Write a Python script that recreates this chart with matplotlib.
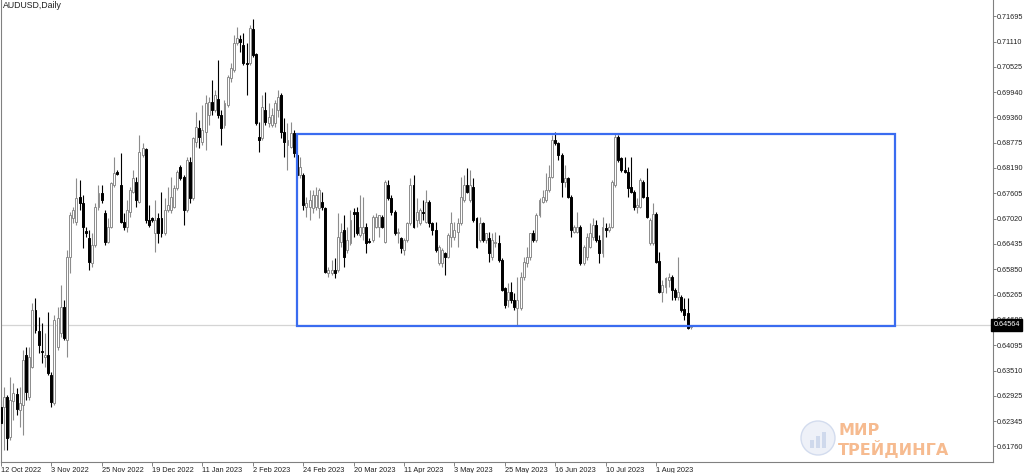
import numpy as np
import matplotlib
matplotlib.use('Agg')
import matplotlib.pyplot as plt
from matplotlib.patches import Rectangle, Ellipse

# AUDUSD daily, 12 Oct 2022 .. mid Aug 2023
opens = [
    .6267, .6267, .6290, .6198, .6281, .6297, .6260, .6271, .6387, .6290,
    .6359, .6491, .6442, .6396, .6382, .6387, .6341, .6276, .6405, .6438,
    .6498, .6422, .6613, .6703, .6694, .6752, .6738, .6673, .6657, .6600,
    .6641, .6729, .6761, .6715, .6648, .6683, .6780, .6810, .6780, .6694,
    .6683, .6717, .6764, .6787, .6740, .6849, .6863, .6699, .6703, .6669,
    .6703, .6703, .6669, .6722, .6722, .6729, .6773, .6821, .6798, .6722,
    .6833, .6750, .6879, .6911, .6879, .6902, .6941, .6971, .6953, .6978,
    .6941, .6918, .6964, .7027, .7045, .7108, .7117, .7103, .7061, .7061,
    .7140, .7082, .6891, .6888, .6953, .6923, .6918, .6923, .6953, .6988,
    .6902, .6872, .6867, .6900, .6849, .6803, .6803, .6729, .6729, .6727,
    .6729, .6727, .6740, .6727, .6576, .6576, .6583, .6583, .6648, .6676,
    .6630, .6646, .6717, .6717, .6664, .6669, .6683, .6650, .6653, .6683,
    .6683, .6706, .6648, .6780, .6750, .6717, .6669, .6657, .6630, .6653,
    .6692, .6780, .6699, .6692, .6717, .6694, .6740, .6692, .6676, .6600,
    .6600, .6623, .6613, .6660, .6660, .6671, .6692, .6745, .6780, .6745,
    .6775, .6703, .6652, .6692, .6652, .6657, .6613, .6646, .6646, .6606,
    .6542, .6514, .6532, .6514, .6496, .6496, .6567, .6600, .6613, .6669,
    .6652, .6710, .6740, .6745, .6768, .6798, .6884, .6877, .6849, .6787,
    .6796, .6752, .6671, .6671, .6683, .6600, .6613, .6636, .6660, .6687,
    .6652, .6623, .6680, .6676, .6683, .6780, .6891, .6842, .6814, .6810,
    .6775, .6764, .6729, .6729, .6787, .6752, .6646, .6646, .6713, .6605,
    .6532, .6544, .6560, .6567, .6537, .6521, .6521, .6493, .6484, .6452,
]
highs = [
    .6283, .6313, .6295, .6336, .6322, .6311, .6313, .6399, .6405, .6405,
    .6507, .6519, .6475, .6461, .6438, .6486, .6348, .6479, .6498, .6549,
    .6514, .6630, .6717, .6729, .6796, .6791, .6757, .6683, .6676, .6669,
    .6738, .6780, .6780, .6722, .6703, .6787, .6844, .6814, .6854, .6715,
    .6745, .6775, .6814, .6798, .6895, .6877, .6865, .6734, .6706, .6745,
    .6715, .6764, .6750, .6775, .6798, .6780, .6814, .6826, .6803, .6844,
    .6844, .6891, .6948, .6930, .6964, .6988, .6983, .7022, .6999, .7068,
    .6953, .6976, .7034, .7061, .7126, .7145, .7126, .7131, .7108, .7149,
    .7163, .7085, .6925, .6988, .6995, .6969, .6958, .6976, .6999, .6992,
    .6934, .6923, .6925, .6907, .6854, .6844, .6807, .6752, .6768, .6768,
    .6775, .6773, .6764, .6729, .6590, .6606, .6611, .6715, .6692, .6710,
    .6683, .6722, .6727, .6729, .6757, .6752, .6692, .6657, .6710, .6715,
    .6710, .6710, .6791, .6791, .6757, .6722, .6680, .6660, .6657, .6694,
    .6796, .6803, .6750, .6727, .6745, .6768, .6745, .6694, .6694, .6641,
    .6634, .6625, .6669, .6717, .6694, .6703, .6798, .6803, .6819, .6814,
    .6796, .6706, .6706, .6694, .6669, .6671, .6669, .6671, .6664, .6611,
    .6544, .6553, .6556, .6530, .6567, .6579, .6613, .6636, .6669, .6676,
    .6715, .6750, .6768, .6807, .6826, .6895, .6902, .6879, .6854, .6826,
    .6798, .6757, .6687, .6717, .6687, .6641, .6669, .6692, .6703, .6699,
    .6664, .6706, .6692, .6692, .6791, .6900, .6895, .6844, .6844, .6821,
    .6844, .6768, .6750, .6796, .6791, .6819, .6703, .6738, .6717, .6625,
    .6560, .6567, .6576, .6572, .6542, .6613, .6525, .6519, .6519, .6456,
]
lows = [
    .6225, .6168, .6168, .6191, .6237, .6248, .6221, .6202, .6283, .6283,
    .6357, .6438, .6392, .6369, .6359, .6341, .6267, .6271, .6399, .6429,
    .6422, .6382, .6576, .6692, .6687, .6722, .6634, .6660, .6583, .6590,
    .6636, .6722, .6738, .6641, .6646, .6680, .6775, .6803, .6692, .6676,
    .6671, .6706, .6761, .6729, .6738, .6844, .6692, .6683, .6694, .6625,
    .6646, .6660, .6664, .6717, .6715, .6727, .6768, .6791, .6687, .6717,
    .6738, .6745, .6867, .6865, .6872, .6860, .6918, .6941, .6948, .6934,
    .6872, .6911, .6960, .7018, .7041, .7103, .7087, .7057, .6988, .7057,
    .7075, .6918, .6856, .6884, .6918, .6914, .6914, .6914, .6937, .6888,
    .6844, .6814, .6865, .6844, .6796, .6796, .6722, .6706, .6699, .6715,
    .6722, .6703, .6722, .6576, .6567, .6572, .6565, .6579, .6636, .6590,
    .6623, .6641, .6660, .6664, .6660, .6653, .6623, .6646, .6648, .6680,
    .6660, .6680, .6646, .6745, .6710, .6664, .6646, .6623, .6618, .6648,
    .6687, .6680, .6683, .6687, .6699, .6692, .6683, .6664, .6625, .6595,
    .6590, .6572, .6611, .6636, .6653, .6636, .6687, .6740, .6761, .6740,
    .6694, .6634, .6648, .6648, .6646, .6602, .6606, .6636, .6602, .6535,
    .6496, .6498, .6507, .6491, .6454, .6491, .6560, .6590, .6606, .6648,
    .6648, .6706, .6738, .6740, .6764, .6796, .6872, .6837, .6752, .6775,
    .6750, .6660, .6669, .6669, .6595, .6595, .6606, .6634, .6652, .6648,
    .6600, .6613, .6660, .6671, .6680, .6775, .6833, .6810, .6807, .6752,
    .6761, .6722, .6715, .6727, .6750, .6703, .6641, .6641, .6600, .6530,
    .6509, .6530, .6544, .6514, .6514, .6514, .6486, .6468, .6447, .6447,
]
closes = [
    .6230, .6290, .6195, .6283, .6299, .6262, .6276, .6375, .6302, .6382,
    .6491, .6445, .6410, .6394, .6387, .6345, .6278, .6468, .6472, .6498,
    .6426, .6613, .6710, .6722, .6750, .6738, .6683, .6669, .6602, .6641,
    .6729, .6761, .6745, .6648, .6683, .6784, .6807, .6805, .6694, .6683,
    .6722, .6768, .6796, .6745, .6856, .6865, .6699, .6687, .6699, .6699,
    .6669, .6669, .6722, .6734, .6752, .6773, .6810, .6796, .6722, .6837,
    .6750, .6888, .6914, .6891, .6907, .6969, .6971, .6953, .6988, .6941,
    .6911, .6969, .7029, .7050, .7108, .7119, .7110, .7061, .7059, .7142,
    .7080, .6923, .6884, .6960, .6925, .6937, .6941, .6969, .6983, .6902,
    .6879, .6884, .6900, .6854, .6803, .6821, .6734, .6738, .6745, .6757,
    .6757, .6768, .6729, .6579, .6583, .6583, .6576, .6660, .6671, .6613,
    .6653, .6699, .6713, .6669, .6683, .6683, .6646, .6648, .6706, .6706,
    .6710, .6683, .6787, .6750, .6717, .6669, .6671, .6634, .6653, .6692,
    .6780, .6683, .6717, .6722, .6715, .6740, .6692, .6676, .6630, .6636,
    .6630, .6613, .6664, .6692, .6676, .6692, .6752, .6780, .6764, .6780,
    .6699, .6636, .6692, .6652, .6669, .6623, .6653, .6648, .6606, .6537,
    .6502, .6532, .6514, .6498, .6514, .6567, .6602, .6613, .6669, .6652,
    .6710, .6745, .6752, .6768, .6798, .6884, .6877, .6849, .6787, .6796,
    .6752, .6676, .6683, .6683, .6600, .6636, .6660, .6669, .6687, .6652,
    .6623, .6683, .6676, .6683, .6787, .6891, .6837, .6814, .6810, .6773,
    .6764, .6729, .6734, .6791, .6752, .6706, .6699, .6713, .6602, .6532,
    .6549, .6565, .6567, .6537, .6521, .6532, .6491, .6479, .6449, .6456,
]

date_ticks = [0, 16, 32, 48, 64, 80, 96, 112, 128, 144, 160, 176, 192, 208]
date_labels = ['12 Oct 2022', '3 Nov 2022', '25 Nov 2022', '19 Dec 2022',
               '11 Jan 2023', '2 Feb 2023', '24 Feb 2023', '20 Mar 2023',
               '11 Apr 2023', '3 May 2023', '25 May 2023', '16 Jun 2023',
               '10 Jul 2023', '1 Aug 2023']
price_ticks = [0.61760, 0.62345, 0.62925, 0.63510, 0.64095, 0.64680,
               0.65265, 0.65850, 0.66435, 0.67020, 0.67605, 0.68190,
               0.68775, 0.69360, 0.69940, 0.70525, 0.71110, 0.71695]
last_price = 0.64564
box_x = (94, 284)
box_y = (0.6454, 0.6897)

plt.rcParams['font.family'] = ['Liberation Sans', 'DejaVu Sans']

fig = plt.figure(figsize=(10.24, 4.73), dpi=100)
ax = fig.add_axes([0.0005, 11 / 473, 992 / 1024, 462 / 473])

o = np.array(opens)
h = np.array(highs)
l = np.array(lows)
c = np.array(closes)
x = np.arange(len(o))
up = c >= o
body = np.maximum(np.abs(c - o), 0.00005)

# wicks
ax.vlines(x[up], l[up], h[up], color='#8c8c8c', lw=0.8, zorder=2)
ax.vlines(x[~up], l[~up], h[~up], color='black', lw=0.8, zorder=2)
# bodies
ax.bar(x[up], body[up], 0.62, bottom=o[up], color='white',
       edgecolor='#8c8c8c', lw=0.7, zorder=3)
ax.bar(x[~up], body[~up], 0.62, bottom=c[~up], color='black',
       edgecolor='black', lw=0.7, zorder=3)

# current price line + range box
ax.axhline(last_price, color='#d4d4d4', lw=0.9, zorder=1)
ax.add_patch(Rectangle((box_x[0], box_y[0]), box_x[1] - box_x[0],
                       box_y[1] - box_y[0], fill=False,
                       edgecolor='#3a6cf0', lw=1.6, zorder=4))

ax.set_xlim(-0.1, 314.8)
ax.set_ylim(0.61398, 0.7207)

ax.yaxis.tick_right()
ax.set_yticks(price_ticks, [f'{p:.5f}' for p in price_ticks])
ax.set_xticks(date_ticks, date_labels)
for t in ax.get_xticklabels():
    t.set_horizontalalignment('left')
ax.tick_params(axis='y', length=2.2, width=0.6, color='#707070',
               labelsize=5.2, pad=0.8, labelcolor='#202020')
ax.tick_params(axis='x', length=3, width=0.6, color='#707070',
               labelsize=5.3, pad=0.5, labelcolor='#202020')

for s in ['left', 'right', 'bottom']:
    ax.spines[s].set_color('#808080')
    ax.spines[s].set_linewidth(0.8)
ax.spines['top'].set_visible(False)

ax.text(1.001, last_price, f'{last_price:.5f}', transform=ax.get_yaxis_transform(),
        ha='left', va='center', color='white', fontsize=5.2, zorder=6,
        bbox=dict(boxstyle='square,pad=0.3', facecolor='black', edgecolor='black'))

ax.text(0.002, 0.998, 'AUDUSD,Daily', transform=ax.transAxes,
        ha='left', va='top', fontsize=6.3, color='#202020')

# watermark
fig.add_artist(Ellipse((818 / 1024, 1 - 438 / 473), 34 / 1024, 34 / 473,
                       transform=fig.transFigure, facecolor='#eef1f8',
                       edgecolor='#d3dcee', lw=1, zorder=2))
for bx, bh in zip([810, 816, 822], [8, 12, 16]):
    fig.add_artist(Rectangle((bx / 1024, 1 - 448 / 473), 4 / 1024, bh / 473,
                             transform=fig.transFigure, facecolor='#cfd9ec',
                             edgecolor='none', zorder=3))
fig.text(838 / 1024, 1 - 430 / 473, 'МИР', fontsize=11.5, fontweight='bold',
         color='#f6bb90', ha='left', va='center', family=['DejaVu Sans'])
fig.text(838 / 1024, 1 - 449 / 473, 'ТРЕЙДИНГА', fontsize=11.5, fontweight='bold',
         color='#f6bb90', ha='left', va='center', family=['DejaVu Sans'])

fig.savefig('out.png', dpi=100)
